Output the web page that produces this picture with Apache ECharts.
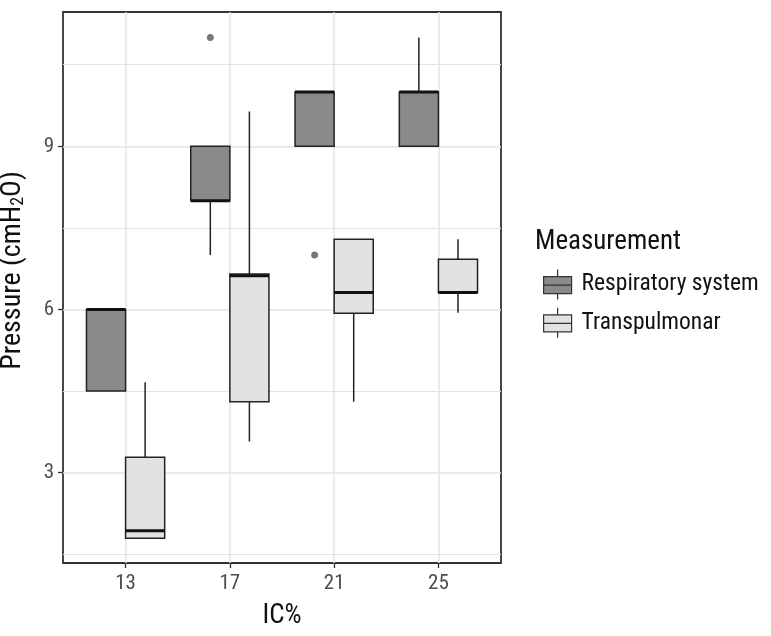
<!DOCTYPE html>
<html>
<head>
<meta charset="utf-8">
<script src="https://cdn.jsdelivr.net/npm/echarts@6/dist/echarts.min.js"></script>
<style>
html,body{margin:0;padding:0;background:#fff;}
#c{width:771px;height:636px;}
</style>
</head>
<body>
<div id="c"></div>
<script>
// ---- data ----
const categories = ['13', '17', '21', '25'];
const seriesNames = ['Respiratory system', 'Transpulmonar'];
// [lower whisker, Q1, median, Q3, upper whisker]
const respiratoryBox = [
  [4.5, 4.5, 6.0, 6.0, 6.0],
  [7.0, 8.0, 8.0, 9.0, 9.0],
  [9.0, 9.0, 10.0, 10.0, 10.0],
  [9.0, 9.0, 10.0, 10.0, 11.0]
];
const transpulmonarBox = [
  [1.79, 1.79, 1.93, 3.28, 4.66],
  [3.57, 4.30, 6.62, 6.65, 9.64],
  [4.30, 5.93, 6.31, 7.29, 7.29],
  [5.94, 6.31, 6.31, 6.92, 7.29]
];
const respiratoryOutlierCat = ['17', '21'];
const respiratoryOutlierVal = [11.0, 7.0];
const yTickLabels = [3, 6, 9];
const yMinorLines = [1.5, 4.5, 7.5, 10.5];

// ---- styling ----
const FONT = "'Liberation Sans Narrow', 'Roboto Condensed', 'DejaVu Sans Condensed', 'Arial Narrow', sans-serif";
const colRS = '#8a8a8a';
const colTP = '#e2e2e2';
const gridCol = '#e4e4e4';
const BOX_HALF = 0.1875;   // half box width in category units
const DODGE = 0.1875;      // dodge offset

const xPos = categories.map((c, i) => i + 1);

function boxData(arr) {
  return arr.map((s, i) => [xPos[i]].concat(s));
}

function makeRender(offset) {
  return function (params, api) {
    const xc = api.value(0) + offset;
    const lo = api.value(1), q1 = api.value(2), md = api.value(3), q3 = api.value(4), hi = api.value(5);
    const tl = api.coord([xc - BOX_HALF, q3]);
    const br = api.coord([xc + BOX_HALF, q1]);
    const cx = api.coord([xc, md])[0];
    const yMd = api.coord([xc, md])[1];
    const yLo = api.coord([xc, lo])[1];
    const yHi = api.coord([xc, hi])[1];
    const style = api.style();
    const children = [];
    if (yHi < tl[1] - 0.5) {
      children.push({ type: 'line', shape: { x1: cx, y1: yHi, x2: cx, y2: tl[1] }, style: { stroke: '#222', lineWidth: 1.5 } });
    }
    if (yLo > br[1] + 0.5) {
      children.push({ type: 'line', shape: { x1: cx, y1: br[1], x2: cx, y2: yLo }, style: { stroke: '#222', lineWidth: 1.5 } });
    }
    children.push({
      type: 'rect',
      shape: { x: tl[0], y: tl[1], width: br[0] - tl[0], height: br[1] - tl[1] },
      style: { fill: style.fill, stroke: '#222', lineWidth: 1.5 }
    });
    children.push({ type: 'line', shape: { x1: tl[0], y1: yMd, x2: br[0], y2: yMd }, style: { stroke: '#111', lineWidth: 3 } });
    return { type: 'group', children: children };
  };
}

const gridLines = []
  .concat(yTickLabels.map(v => ({ yAxis: v, lineStyle: { color: gridCol, width: 1.5, type: 'solid' } })))
  .concat(yMinorLines.map(v => ({ yAxis: v, lineStyle: { color: gridCol, width: 1, type: 'solid' } })))
  .concat(xPos.map(v => ({ xAxis: v, lineStyle: { color: gridCol, width: 1.5, type: 'solid' } })));

const legendIcon = 'path://M14,0L14,7M0,7L28,7L28,24L0,24ZM0,15.5L28,15.5M14,24L14,30';

const chart = echarts.init(document.getElementById('c'), null, { renderer: 'canvas' });
chart.setOption({
  animation: false,
  backgroundColor: '#fff',
  textStyle: { fontFamily: FONT },
  title: {
    text: 'Measurement',
    left: 535, top: 229, padding: 0,
    textStyle: { fontFamily: FONT, fontSize: 27, fontWeight: 'normal', color: '#111' }
  },
  legend: {
    orient: 'vertical',
    left: 543, top: 269, padding: 0,
    itemWidth: 28, itemHeight: 30, itemGap: 7,
    icon: legendIcon,
    data: seriesNames,
    itemStyle: { borderColor: '#333', borderWidth: 1.2 },
    textStyle: { fontFamily: FONT, fontSize: 23.5, color: '#111', padding: [0, 0, 0, 5] },
    selectedMode: false
  },
  grid: {
    left: 63, right: 270, top: 12, bottom: 73,
    show: true, borderColor: '#333', borderWidth: 1.8, backgroundColor: '#fff',
    containLabel: false, outerBoundsMode: 'none'
  },
  xAxis: {
    type: 'value', min: 0.4, max: 4.6, splitNumber: 4,
    name: 'IC%', nameLocation: 'middle', nameGap: 40,
    nameTextStyle: { fontFamily: FONT, fontSize: 27, color: '#111' },
    axisLine: { show: false },
    axisTick: { show: true, customValues: xPos, length: 5, lineStyle: { color: '#333', width: 1.3 } },
    axisLabel: {
      customValues: xPos, margin: 10, fontFamily: FONT, fontSize: 21, color: '#4d4d4d',
      formatter: v => (Number.isInteger(v) && v >= 1 && v <= categories.length) ? categories[v - 1] : ''
    },
    splitLine: { show: false }
  },
  yAxis: {
    type: 'value', min: 1.335, max: 11.47, splitNumber: 3,
    name: '{a|Pressure (cmH}{s|2}{a|O)}', nameLocation: 'middle', nameGap: 36,
    nameTextStyle: {
      padding: [0, 0, 0, 34],
      rich: {
        a: { fontFamily: FONT, fontSize: 28, color: '#111', verticalAlign: 'bottom', lineHeight: 30 },
        s: { fontFamily: FONT, fontSize: 18, color: '#111', verticalAlign: 'bottom', lineHeight: 12 }
      }
    },
    axisLine: { show: false },
    axisTick: { show: true, customValues: yTickLabels, length: 5, lineStyle: { color: '#333', width: 1.3 } },
    axisLabel: {
      customValues: yTickLabels, margin: 9, fontFamily: FONT, fontSize: 21, color: '#4d4d4d',
      formatter: v => yTickLabels.indexOf(v) >= 0 ? String(v) : ''
    },
    splitLine: { show: false }
  },
  series: [
    {
      name: seriesNames[0], type: 'custom', z: 2,
      itemStyle: { color: colRS, borderColor: '#333' },
      renderItem: makeRender(-DODGE),
      encode: { x: 0, y: [1, 2, 3, 4, 5] },
      data: boxData(respiratoryBox)
    },
    {
      name: seriesNames[1], type: 'custom', z: 2,
      itemStyle: { color: colTP, borderColor: '#333' },
      renderItem: makeRender(DODGE),
      encode: { x: 0, y: [1, 2, 3, 4, 5] },
      data: boxData(transpulmonarBox)
    },
    {
      name: 'outliers', type: 'custom', z: 3,
      renderItem: function (params, api) {
        const p = api.coord([api.value(0) - DODGE, api.value(1)]);
        return { type: 'circle', shape: { cx: p[0], cy: p[1], r: 3.2 }, style: { fill: '#777', stroke: '#666', lineWidth: 0.5 } };
      },
      encode: { x: 0, y: 1 },
      data: respiratoryOutlierCat.map((c, i) => [categories.indexOf(c) + 1, respiratoryOutlierVal[i]]),
      markLine: {
        silent: true, symbol: ['none', 'none'], z: 1,
        label: { show: false },
        emphasis: { disabled: true },
        data: gridLines
      }
    }
  ]
});
</script>
</body>
</html>
